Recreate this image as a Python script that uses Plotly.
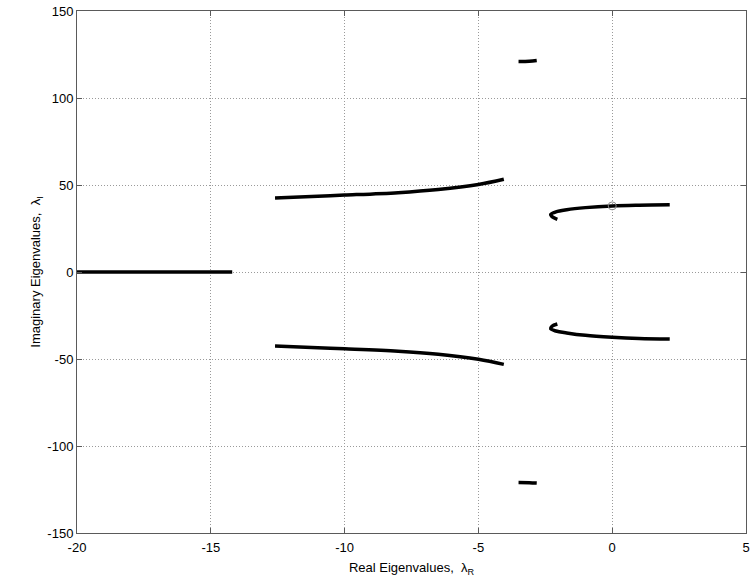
import plotly.graph_objects as go

# Branch data (real, imag)
b1_re = [-20.0, -17.0, -14.2]
b1_im = [0.0, 0.0, 0.0]

b2u_re = [-12.6, -11.0, -10.0, -8.0, -6.5, -5.0, -4.05]
b2u_im = [42.6, 43.6, 44.2, 45.6, 47.4, 50.3, 53.3]
b2l_re = [-12.6, -11.0, -10.0, -8.0, -6.5, -5.0, -4.05]
b2l_im = [-42.6, -43.5, -44.1, -45.5, -47.3, -50.2, -53.1]

b3u_re = [-3.5, -3.1, -2.82]
b3u_im = [121.0, 121.1, 121.5]
b3l_re = [-3.5, -3.1, -2.82]
b3l_im = [-121.0, -121.1, -121.3]

b4u_re = [-2.05, -2.25, -2.3, -2.1, -1.7, -1.0, 0.0, 1.0, 2.15]
b4u_im = [30.3, 31.8, 33.0, 34.6, 35.8, 37.0, 38.0, 38.4, 38.6]
b4l_re = [-2.05, -2.25, -2.3, -2.1, -1.7, -1.0, 0.0, 1.0, 2.15]
b4l_im = [-29.9, -31.2, -32.6, -33.9, -35.0, -36.4, -37.5, -38.2, -38.5]

marker_re = [0.0]
marker_im = [38.0]

x_ticks = [-20, -15, -10, -5, 0, 5]
y_ticks = [-150, -100, -50, 0, 50, 100, 150]

FONT = "Liberation Sans, Arial, sans-serif"

fig = go.Figure()
for xs, ys in [(b1_re, b1_im), (b2u_re, b2u_im), (b2l_re, b2l_im),
               (b3u_re, b3u_im), (b3l_re, b3l_im),
               (b4u_re, b4u_im), (b4l_re, b4l_im)]:
    fig.add_trace(go.Scatter(x=xs, y=ys, mode="lines",
                             line=dict(color="black", width=3.5, shape="spline"),
                             showlegend=False, hoverinfo="skip"))
fig.add_trace(go.Scatter(x=marker_re, y=marker_im, mode="markers",
                         marker=dict(symbol="circle-open", size=8,
                                     color="#888888", line=dict(width=1)),
                         showlegend=False))

axis_common = dict(
    showgrid=True, gridcolor="#9a9a9a", griddash="1px,2px", gridwidth=1,
    zeroline=False, showline=True, linecolor="#5a5a5a", linewidth=1,
    mirror="ticks", ticks="inside", ticklen=5, tickcolor="#5a5a5a",
    tickfont=dict(family=FONT, size=13, color="black"),
    automargin=False,
)

fig.update_layout(
    width=751, height=584,
    margin=dict(l=77, r=5, t=11, b=51),
    paper_bgcolor="white", plot_bgcolor="white",
    font=dict(family=FONT, size=13, color="black"),
    xaxis=dict(range=[-20, 5], tickvals=x_ticks,
               ticktext=[str(v) for v in x_ticks],
               ticklabelstandoff=2,
               title=dict(text="Real Eigenvalues,  λ<sub>R</sub>", standoff=9,
                          font=dict(size=13)),
               **axis_common),
    yaxis=dict(range=[-150, 150], tickvals=y_ticks,
               ticktext=[str(v) for v in y_ticks],
               title=dict(text="Imaginary Eigenvalues,  λ<sub>I</sub>", standoff=3,
                          font=dict(size=13)),
               **axis_common),
)

fig.write_html("out.html")
